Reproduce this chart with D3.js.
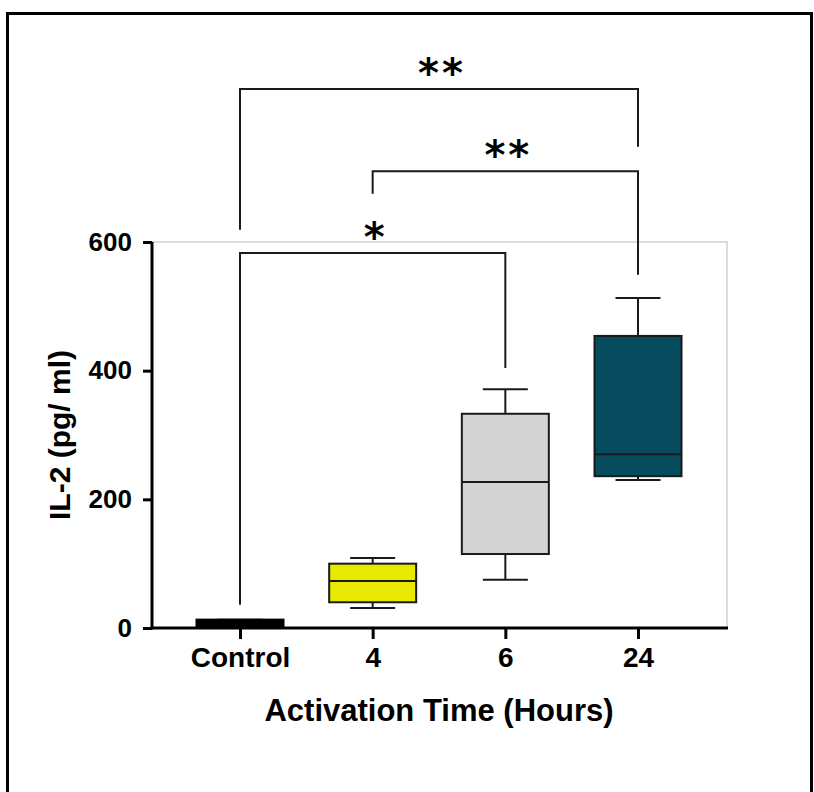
<!DOCTYPE html>
<html>
<head>
<meta charset="utf-8">
<script src="https://cdn.jsdelivr.net/npm/d3@7"></script>
<style>
  body { margin: 0; background: #fff; }
  text { font-family: "Liberation Sans", Arial, sans-serif; }
</style>
</head>
<body>
<script>
// groups on the x axis
var groups = ["Control", "4", "6", "24"];
var boxColors = ["#000000", "#e8e800", "#d3d3d3", "#074b5e"];

// box statistics (pg/ml)
var mins    = [1, 31, 75, 230];
var q1s     = [1, 40, 115, 236];
var medians = [6, 73, 227, 270];
var q3s     = [13, 100, 333, 454];
var maxs    = [13, 109, 371, 513];

var yTicks = [0, 200, 400, 600];

// significance brackets: from group, to group, bar level, leg ends, label
var brackets = [
    {from: "Control", to: "6",  level: 583, leftEnd: 36,  rightEnd: 404, label: "*"},
    {from: "4",       to: "24", level: 710, leftEnd: 675, rightEnd: 549, label: "**"},
    {from: "Control", to: "24", level: 838, leftEnd: 619, rightEnd: 748, label: "**"}
];

var width = 814, height = 792;

var svg = d3.select("body").append("svg")
    .attr("width", width)
    .attr("height", height);

// outer frame
svg.append("rect")
    .attr("x", 7.5)
    .attr("y", 13.5)
    .attr("width", 804)
    .attr("height", 800)
    .attr("fill", "none")
    .attr("stroke", "#000")
    .attr("stroke-width", 3);

var yScale = d3.scaleLinear()
    .domain([0, 600])
    .range([628, 242]);

var xScale = d3.scalePoint()
    .domain(groups)
    .range([240, 638]);

var boxW = 87, capW = 45;

// light gray plot frame
svg.append("rect")
    .attr("x", 152)
    .attr("y", yScale(600))
    .attr("width", 727 - 152)
    .attr("height", yScale(0) - yScale(600))
    .attr("fill", "none")
    .attr("stroke", "#dcdcdc")
    .attr("stroke-width", 2);

// boxes
var box = svg.append("g").attr("class", "boxes")
    .selectAll("g")
    .data(groups)
    .enter().append("g");

box.append("line")
    .attr("x1", function (d) { return xScale(d); })
    .attr("x2", function (d) { return xScale(d); })
    .attr("y1", function (d, i) { return yScale(maxs[i]); })
    .attr("y2", function (d, i) { return yScale(mins[i]); })
    .attr("stroke", "#1a1a1a")
    .attr("stroke-width", 2);

box.append("line")
    .attr("x1", function (d) { return xScale(d) - capW / 2; })
    .attr("x2", function (d) { return xScale(d) + capW / 2; })
    .attr("y1", function (d, i) { return yScale(maxs[i]); })
    .attr("y2", function (d, i) { return yScale(maxs[i]); })
    .attr("stroke", "#1a1a1a")
    .attr("stroke-width", 2);

box.append("line")
    .attr("x1", function (d) { return xScale(d) - capW / 2; })
    .attr("x2", function (d) { return xScale(d) + capW / 2; })
    .attr("y1", function (d, i) { return yScale(mins[i]); })
    .attr("y2", function (d, i) { return yScale(mins[i]); })
    .attr("stroke", "#1a1a1a")
    .attr("stroke-width", 2);

box.append("rect")
    .attr("x", function (d) { return xScale(d) - boxW / 2; })
    .attr("y", function (d, i) { return yScale(q3s[i]); })
    .attr("width", boxW)
    .attr("height", function (d, i) { return yScale(q1s[i]) - yScale(q3s[i]); })
    .attr("fill", function (d, i) { return boxColors[i]; })
    .attr("stroke", function (d, i) { return i === 0 ? "#000" : "#1a1a1a"; })
    .attr("stroke-width", 2);

box.append("line")
    .attr("x1", function (d) { return xScale(d) - boxW / 2; })
    .attr("x2", function (d) { return xScale(d) + boxW / 2; })
    .attr("y1", function (d, i) { return yScale(medians[i]); })
    .attr("y2", function (d, i) { return yScale(medians[i]); })
    .attr("stroke", function (d, i) { return i === 0 ? "#000" : "#1a1a1a"; })
    .attr("stroke-width", 2);

// y axis
var yAxis = d3.axisLeft(yScale)
    .tickValues(yTicks)
    .tickSize(9)
    .tickPadding(11)
    .tickSizeOuter(0);

var yg = svg.append("g")
    .attr("transform", "translate(152,0)")
    .call(yAxis);
yg.selectAll("path, line").attr("stroke", "#000").attr("stroke-width", 3);
yg.select(".domain").attr("d", "M0," + (yScale(0) + 1.5) + "V" + yScale(600));
yg.selectAll("text")
    .attr("fill", "#000")
    .style("font-size", "26px")
    .style("font-weight", "bold");

// x axis
var xAxis = d3.axisBottom(xScale)
    .tickSize(11)
    .tickPadding(8)
    .tickSizeOuter(0);

var xg = svg.append("g")
    .attr("transform", "translate(0," + yScale(0) + ")")
    .call(xAxis);
xg.select(".domain").attr("d", "M150.5,0H728");
xg.selectAll("path, line").attr("stroke", "#000").attr("stroke-width", 3);
xg.selectAll("text")
    .attr("fill", "#000")
    .style("font-size", "28px")
    .style("font-weight", "bold");

// axis titles
svg.append("text")
    .attr("x", 439)
    .attr("y", 721)
    .attr("text-anchor", "middle")
    .style("font-size", "31px")
    .style("font-weight", "bold")
    .text("Activation Time (Hours)");

svg.append("text")
    .attr("transform", "translate(70,435) rotate(-90)")
    .attr("text-anchor", "middle")
    .style("font-size", "30px")
    .style("font-weight", "bold")
    .text("IL-2 (pg/ ml)");

// significance brackets
var br = svg.append("g").attr("class", "brackets")
    .selectAll("g")
    .data(brackets)
    .enter().append("g");

br.append("path")
    .attr("d", function (d) {
        var x1 = xScale(d.from), x2 = xScale(d.to);
        return "M" + x1 + "," + yScale(d.leftEnd) +
            "V" + yScale(d.level) +
            "H" + x2 +
            "V" + yScale(d.rightEnd);
    })
    .attr("fill", "none")
    .attr("stroke", "#1a1a1a")
    .attr("stroke-width", 2);

br.append("text")
    .attr("x", function (d) { return (xScale(d.from) + xScale(d.to)) / 2 + 3; })
    .attr("y", function (d) { return yScale(d.level) - 2; })
    .attr("text-anchor", "middle")
    .style("font-family", "DejaVu Sans")
    .style("font-size", "40px")
    .style("font-weight", "bold")
    .style("letter-spacing", "3px")
    .attr("fill", "#000")
    .text(function (d) { return d.label; });
</script>
</body>
</html>
